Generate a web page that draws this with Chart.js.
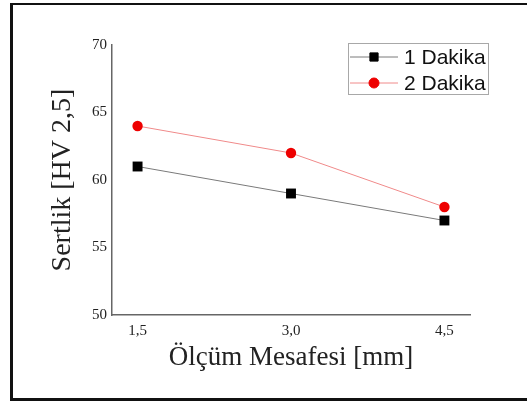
<!DOCTYPE html>
<html>
  <head>
    <meta charset="utf-8" />
    <title>Sertlik</title>
    <script src="https://cdn.jsdelivr.net/npm/chart.js@4.4.1/dist/chart.umd.min.js"></script>
    <style>
      html, body { margin: 0; padding: 0; background: #fff; }
      #frame {
        position: absolute; left: 10px; top: 3px;
        width: 600px; height: 393px;
        border: 3px solid #111; border-top-width: 2px;
      }
      #chart { position: absolute; left: 0; top: 0; }
    </style>
  </head>
  <body>
    <div id="frame"></div>
    <canvas id="chart" width="527" height="404"></canvas>

    <script type="text/javascript">
      // measuring distance [mm] and tick text
      const distances = [1.5, 3.0, 4.5];
      const distanceLabels = ["1,5", "3,0", "4,5"];
      // hardness [HV 2,5]
      const oneMinute = [61, 59, 57];
      const twoMinutes = [64, 62, 58];
      const seriesNames = ["1 Dakika", "2 Dakika"];

      const serif = "'Liberation Serif', 'Times New Roman', serif";
      const sans = "'Liberation Sans', Arial, sans-serif";

      function toPoints(values) {
        return distances.map((d, i) => ({ x: d, y: values[i] }));
      }

      // legend drawn inside the plot, like the original
      const boxLegend = {
        id: "boxLegend",
        afterDraw(chart) {
          const ctx = chart.ctx;
          ctx.save();
          ctx.strokeStyle = "#a8a8a8";
          ctx.lineWidth = 1;
          ctx.strokeRect(348.5, 43.5, 140, 51);
          ctx.font = "21px " + sans;
          ctx.textBaseline = "middle";
          ctx.fillStyle = "#111";
          chart.data.datasets.forEach((ds, i) => {
            const y = 57 + i * 26;
            ctx.strokeStyle = ds.borderColor;
            ctx.lineWidth = 1;
            ctx.beginPath();
            ctx.moveTo(350, y);
            ctx.lineTo(398, y);
            ctx.stroke();
            ctx.fillStyle = ds.pointBackgroundColor;
            ctx.strokeStyle = ds.pointBackgroundColor;
            Chart.helpers.drawPoint(ctx, {
              pointStyle: ds.pointStyle,
              radius: i == 0 ? 5.8 : 5,
              rotation: 0,
              borderWidth: 1,
            }, 374, y);
            ctx.fillStyle = "#111";
            ctx.fillText(ds.label, 404, y + 1);
          });
          ctx.restore();
        },
      };

      new Chart(document.getElementById("chart"), {
        type: "line",
        data: {
          datasets: [
            {
              label: seriesNames[0],
              data: toPoints(oneMinute),
              borderColor: "#7a7a7a",
              borderWidth: 1,
              pointStyle: "rect",
              pointRadius: 7,
              pointBackgroundColor: "#000",
              pointBorderColor: "#000",
              pointBorderWidth: 0,
            },
            {
              label: seriesNames[1],
              data: toPoints(twoMinutes),
              borderColor: "#f08a8a",
              borderWidth: 1,
              pointStyle: "circle",
              pointRadius: 5.2,
              pointBackgroundColor: "#ee0000",
              pointBorderColor: "#ee0000",
              pointBorderWidth: 0,
            },
          ],
        },
        options: {
          responsive: false,
          animation: false,
          events: [],
          layout: { padding: { top: 45, right: 57, left: 0, bottom: 0 } },
          plugins: {
            legend: { display: false },
            tooltip: { enabled: false },
          },
          scales: {
            x: {
              type: "linear",
              min: 1.25,
              max: 4.75,
              afterBuildTicks: (scale) => {
                scale.ticks = distances.map((v) => ({ value: v }));
              },
              afterFit: (scale) => { scale.height = 89; },
              grid: { display: false, drawTicks: false },
              border: { display: true, color: "#666", width: 1.5 },
              ticks: {
                padding: 7,
                color: "#222",
                font: { family: serif, size: 15 },
                callback: (v) => distanceLabels[distances.indexOf(v)],
              },
              title: {
                display: true,
                text: "Ölçüm Mesafesi [mm]",
                color: "#222",
                font: { family: serif, size: 27 },
                padding: { top: 0, bottom: 30 },
              },
            },
            y: {
              min: 50,
              max: 70,
              afterFit: (scale) => { scale.width = 112; },
              grid: { display: false, drawTicks: false },
              border: { display: true, color: "#666", width: 1.5 },
              ticks: {
                stepSize: 5,
                padding: 5,
                color: "#222",
                font: { family: serif, size: 15 },
              },
              title: {
                display: true,
                text: "Sertlik [HV 2,5]",
                color: "#222",
                font: { family: serif, size: 28 },
                padding: { top: 46, bottom: 0 },
              },
            },
          },
        },
        plugins: [boxLegend],
      });
    </script>
  </body>
</html>
